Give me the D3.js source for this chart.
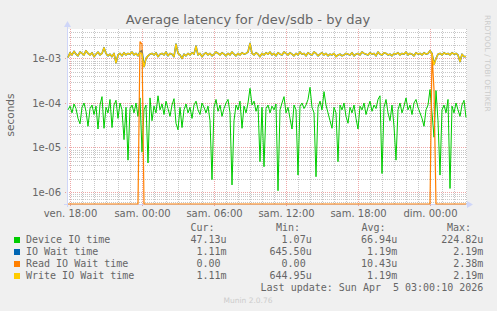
<!DOCTYPE html>
<html>
<head>
<meta charset="utf-8">
<script src="https://cdn.jsdelivr.net/npm/d3@7"></script>
<style>
  body { margin: 0; background: #f0f0f0; }
  svg { display: block; }
</style>
</head>
<body>
<svg id="chart" width="497" height="311"></svg>
<script>
// 5-min rrd samples, resampled every 10 minutes
const startTime = new Date(2026, 3, 3, 17, 50);
const stepMinutes = 10;

// Device IO time, microseconds
const deviceUs = [
  70, 85, 60, 95, 75, 45, 34, 80, 100, 65,
  30, 75, 90, 55, 85, 26, 90, 139, 27, 80,
  60, 120, 28, 90, 115, 45, 100, 70, 15, 80,
  5.2, 75, 90, 60, 100, 50, 130, 8, 70, 90,
  4.5, 130, 40, 85, 60, 145, 70, 95, 55, 110,
  75, 50, 90, 125, 35, 25, 80, 28, 70, 95,
  60, 80, 45, 90, 110, 70, 55, 100, 80, 60,
  85, 40, 1.9, 80, 120, 65, 90, 50, 75, 100,
  120, 60, 1.44, 40, 90, 70, 110, 27, 85, 60,
  100, 214, 90, 110, 65, 90, 4.8, 80, 3.7, 75,
  90, 60, 85, 70, 95, 1.07, 70, 100, 139, 60,
  80, 45, 26, 90, 70, 2.4, 85, 100, 75, 90,
  120, 224.82, 80, 60, 2.2, 80, 110, 70, 180, 90,
  60, 40, 27, 80, 60, 4.8, 90, 70, 100, 50,
  35, 80, 60, 90, 45, 26, 85, 70, 100, 55,
  80, 110, 65, 90, 75, 120, 145, 2.6, 80, 120,
  60, 40, 90, 30, 5.2, 70, 100, 60, 85, 130,
  70, 90, 55, 100, 120, 80, 60, 45, 30, 70,
  90, 200, 60, 17, 190, 40, 2.4, 70, 90, 60,
  120, 1.2, 85, 60, 100, 70, 50, 90, 115, 47.13
];

// IO Wait time, milliseconds
const ioWaitMs = [
  1.05, 1.35, 1.2, 1.45, 1.25, 1.15, 1.4, 1.3, 1.2, 1.5,
  1.3, 1.2, 1.35, 1.1, 1.25, 1.4, 1.2, 1.3, 1.75, 1.3,
  1.15, 1.25, 1.1, 1.3, 0.8, 1.2, 1.3, 1.15, 1.35, 1.2,
  1.3, 1.25, 1.4, 1.2, 1.3, 1.15, 1.4, 1.5, 0.66, 1.0,
  1.15, 1.25, 1.3, 1.2, 1.35, 1.1, 1.25, 1.3, 1.2, 1.4,
  1.15, 1.3, 1.25, 1.1, 2.1, 1.3, 1.2, 1.0, 1.25, 1.15,
  1.3, 1.2, 1.35, 1.25, 1.9, 1.2, 1.3, 1.1, 1.25, 1.35,
  1.2, 1.3, 1.15, 1.25, 1.4, 1.3, 1.2, 1.35, 1.25, 1.15,
  1.3, 1.2, 1.4, 1.25, 1.15, 1.3, 1.2, 1.35, 1.25, 1.3,
  1.4, 2.19, 1.3, 1.2, 1.35, 1.25, 1.1, 1.3, 1.2, 1.35,
  1.25, 1.4, 1.2, 1.3, 1.15, 1.35, 1.25, 1.2, 1.4, 1.3,
  1.2, 1.35, 1.25, 1.15, 1.3, 1.2, 1.4, 1.25, 1.3, 1.15,
  1.35, 1.25, 1.2, 1.4, 1.3, 1.15, 1.25, 1.35, 1.2, 1.3,
  1.15, 1.25, 1.2, 1.3, 1.1, 1.2, 1.25, 1.15, 1.2, 1.3,
  1.25, 1.2, 1.35, 1.15, 1.25, 1.3, 1.2, 1.4, 1.3, 1.25,
  1.2, 1.35, 1.25, 1.3, 1.15, 1.4, 1.25, 1.2, 1.35, 1.3,
  1.2, 1.25, 1.15, 1.3, 1.25, 1.35, 1.2, 1.3, 1.25, 1.4,
  1.2, 1.3, 1.25, 1.15, 1.35, 1.25, 1.3, 1.2, 1.35, 1.25,
  1.3, 1.5, 1.3, 0.75, 1.0, 1.25, 1.3, 1.2, 1.35, 1.25,
  1.3, 1.2, 1.35, 1.25, 1.3, 1.2, 0.85, 1.25, 1.1, 1.11
];

// Read IO Wait time, milliseconds
const readWaitMs = [
  0, 0, 0, 0, 0, 0, 0, 0, 0, 0,
  0, 0, 0, 0, 0, 0, 0, 0, 0, 0,
  0, 0, 0, 0, 0, 0, 0, 0, 0, 0,
  0, 0, 0, 0, 0, 0, 2.38, 2.1, 0, 0,
  0, 0, 0, 0, 0, 0, 0, 0, 0, 0,
  0, 0, 0, 0, 0, 0, 0, 0, 0, 0,
  0, 0, 0, 0, 0, 0, 0, 0, 0, 0,
  0, 0, 0, 0, 0, 0, 0, 0, 0, 0,
  0, 0, 0, 0, 0, 0, 0, 0, 0, 0,
  0, 0, 0, 0, 0, 0, 0, 0, 0, 0,
  0, 0, 0, 0, 0, 0, 0, 0, 0, 0,
  0, 0, 0, 0, 0, 0, 0, 0, 0, 0,
  0, 0, 0, 0, 0, 0, 0, 0, 0, 0,
  0, 0, 0, 0, 0, 0, 0, 0, 0, 0,
  0, 0, 0, 0, 0, 0, 0, 0, 0, 0,
  0, 0, 0, 0, 0, 0, 0, 0, 0, 0,
  0, 0, 0, 0, 0, 0, 0, 0, 0, 0,
  0, 0, 0, 0, 0, 0, 0, 0, 0, 0,
  0, 0, 1.3, 0.2, 0, 0, 0, 0, 0, 0,
  0, 0, 0, 0, 0, 0, 0, 0, 0, 0
];

// Write IO Wait time, milliseconds
const writeWaitMs = [
  1.05, 1.35, 1.2, 1.45, 1.25, 1.15, 1.4, 1.3, 1.2, 1.5,
  1.3, 1.2, 1.35, 1.1, 1.25, 1.4, 1.2, 1.3, 1.75, 1.3,
  1.15, 1.25, 1.1, 1.3, 0.8, 1.2, 1.3, 1.15, 1.35, 1.2,
  1.3, 1.25, 1.4, 1.2, 1.3, 1.15, 1.35, 1.25, 0.65, 1.0,
  1.15, 1.25, 1.3, 1.2, 1.35, 1.1, 1.25, 1.3, 1.2, 1.4,
  1.15, 1.3, 1.25, 1.1, 2.1, 1.3, 1.2, 1.0, 1.25, 1.15,
  1.3, 1.2, 1.35, 1.25, 1.9, 1.2, 1.3, 1.1, 1.25, 1.35,
  1.2, 1.3, 1.15, 1.25, 1.4, 1.3, 1.2, 1.35, 1.25, 1.15,
  1.3, 1.2, 1.4, 1.25, 1.15, 1.3, 1.2, 1.35, 1.25, 1.3,
  1.4, 2.19, 1.3, 1.2, 1.35, 1.25, 1.1, 1.3, 1.2, 1.35,
  1.25, 1.4, 1.2, 1.3, 1.15, 1.35, 1.25, 1.2, 1.4, 1.3,
  1.2, 1.35, 1.25, 1.15, 1.3, 1.2, 1.4, 1.25, 1.3, 1.15,
  1.35, 1.25, 1.2, 1.4, 1.3, 1.15, 1.25, 1.35, 1.2, 1.3,
  1.15, 1.25, 1.2, 1.3, 1.1, 1.2, 1.25, 1.15, 1.2, 1.3,
  1.25, 1.2, 1.35, 1.15, 1.25, 1.3, 1.2, 1.4, 1.3, 1.25,
  1.2, 1.35, 1.25, 1.3, 1.15, 1.4, 1.25, 1.2, 1.35, 1.3,
  1.2, 1.25, 1.15, 1.3, 1.25, 1.35, 1.2, 1.3, 1.25, 1.4,
  1.2, 1.3, 1.25, 1.15, 1.35, 1.25, 1.3, 1.2, 1.35, 1.25,
  1.3, 1.5, 1.25, 0.72, 1.0, 1.25, 1.3, 1.2, 1.35, 1.25,
  1.3, 1.2, 1.35, 1.25, 1.3, 1.2, 0.85, 1.25, 1.1, 1.11
];

const seriesNames = ["Device IO time", "IO Wait time", "Read IO Wait time", "Write IO Wait time"];
const seriesColors = ["#00cc00", "#0066b3", "#ff8000", "#ffcc00"];
const curVals = ["47.13u", "1.11m", "0.00", "1.11m"];
const minVals = ["1.07u", "645.50u", "0.00", "644.95u"];
const avgVals = ["66.94u", "1.19m", "10.43u", "1.19m"];
const maxVals = ["224.82u", "2.19m", "2.38m", "2.19m"];

const xTickLabels = ["ven. 18:00", "sam. 00:00", "sam. 06:00", "sam. 12:00", "sam. 18:00", "dim. 00:00"];
const yTickValues = [1e-6, 1e-5, 1e-4, 1e-3];
const yTickLabels = ["1e-06", "1e-05", "1e-04", "1e-03"];

const title = "Average latency for /dev/sdb - by day";
const lastUpdate = "Last update: Sun Apr  5 03:00:10 2026";

// layout
const plotLeft = 67, plotRight = 467, plotTop = 29, plotBottom = 204;
const fontColor = "#666666";
const axisColor = "#cfd6f8";
const lineWidths = [1, 1.6, 1.2, 1.4];

const svg = d3.select("#chart");

const x = d3.scaleTime()
  .domain([new Date(2026, 3, 3, 17, 45), new Date(2026, 3, 5, 3, 5)])
  .range([plotLeft, plotRight]);

const y = d3.scaleLog()
  .domain([5.37e-7, 4.6e-3])
  .range([plotBottom, plotTop])
  .clamp(true);

const times = deviceUs.map((d, i) => d3.timeMinute.offset(startTime, i * stepMinutes));

// canvas
svg.append("rect").attr("x", plotLeft).attr("y", plotTop)
  .attr("width", plotRight - plotLeft).attr("height", plotBottom - plotTop)
  .attr("fill", "#ffffff");

// grid
const grid = svg.append("g");
const hours = d3.timeHour.every(1).range(x.domain()[0], x.domain()[1]);
hours.forEach(h => {
  const major = h.getHours() % 6 === 0;
  grid.append("line")
    .attr("x1", Math.round(x(h)) + 0.5).attr("x2", Math.round(x(h)) + 0.5)
    .attr("y1", plotTop).attr("y2", major ? plotBottom + 2 : plotBottom)
    .attr("stroke", major ? "rgba(222,80,80,0.5)" : "rgba(143,143,143,0.5)")
    .attr("stroke-dasharray", "1,1");
});
for (let e = -7; e <= -3; e++) {
  for (let k = 1; k <= 9; k++) {
    const v = k * Math.pow(10, e);
    if (v < y.domain()[0] || v > y.domain()[1]) continue;
    const yy = Math.round(y(v)) + 0.5;
    grid.append("line")
      .attr("x1", k === 1 ? plotLeft - 2 : plotLeft).attr("x2", plotRight)
      .attr("y1", yy).attr("y2", yy)
      .attr("stroke", k === 1 ? "rgba(222,80,80,0.5)" : "rgba(143,143,143,0.5)")
      .attr("stroke-dasharray", "1,1");
  }
}

// axes lines and arrows
svg.append("line").attr("x1", plotLeft - 3).attr("x2", plotRight + 1)
  .attr("y1", plotBottom + 0.5).attr("y2", plotBottom + 0.5).attr("stroke", axisColor);
svg.append("line").attr("x1", plotLeft + 0.5).attr("x2", plotLeft + 0.5)
  .attr("y1", plotBottom + 3).attr("y2", plotTop - 4).attr("stroke", axisColor);
svg.append("path").attr("d", `M${plotRight},${plotBottom - 3} L${plotRight + 6},${plotBottom + 0.5} L${plotRight},${plotBottom + 4} Z`)
  .attr("fill", axisColor);
svg.append("path").attr("d", `M${plotLeft - 3},${plotTop - 2} L${plotLeft + 0.5},${plotTop - 8} L${plotLeft + 4},${plotTop - 2} Z`)
  .attr("fill", axisColor);

// series
const series = [
  deviceUs.map(v => v * 1e-6),
  ioWaitMs.map(v => v * 1e-3),
  readWaitMs.map(v => v * 1e-3),
  writeWaitMs.map(v => v * 1e-3)
];

svg.append("clipPath").attr("id", "plot-clip")
  .append("rect").attr("x", plotLeft).attr("y", plotTop - 1)
  .attr("width", plotRight - plotLeft + 1).attr("height", plotBottom - plotTop + 2);

const line = d3.line()
  .x((d, i) => x(times[i]))
  .y(d => y(Math.max(d, 1e-12)));

const lines = svg.append("g").attr("clip-path", "url(#plot-clip)");
series.forEach((s, i) => {
  lines.append("path")
    .datum(s)
    .attr("d", line)
    .attr("fill", "none")
    .attr("stroke", seriesColors[i])
    .attr("stroke-width", lineWidths[i])
    .attr("stroke-linejoin", "round");
});

// axis labels
const xTickTimes = d3.timeHour.every(6).range(x.domain()[0], x.domain()[1]);
const xAxis = svg.append("g")
  .attr("transform", `translate(0,${plotBottom})`)
  .call(d3.axisBottom(x).tickValues(xTickTimes)
    .tickFormat((d, i) => xTickLabels[i]).tickSize(0).tickPadding(5.4));
xAxis.select(".domain").remove();
xAxis.selectAll("text").attr("fill", fontColor)
  .style("font-family", "DejaVu Sans").style("font-size", "10px");

const yAxis = svg.append("g")
  .attr("transform", `translate(${plotLeft},0)`)
  .call(d3.axisLeft(y).tickValues(yTickValues)
    .tickFormat((d, i) => yTickLabels[i]).tickSize(0).tickPadding(6));
yAxis.select(".domain").remove();
yAxis.selectAll("text").attr("fill", fontColor)
  .style("font-family", "DejaVu Sans").style("font-size", "10px");

// title, y label, side text
svg.append("text").attr("x", 248).attr("y", 24)
  .attr("text-anchor", "middle").attr("fill", fontColor)
  .style("font-family", "DejaVu Sans").style("font-size", "13px")
  .text(title);

svg.append("text")
  .attr("transform", "translate(14,115) rotate(-90)")
  .attr("text-anchor", "middle").attr("fill", fontColor)
  .style("font-family", "DejaVu Sans").style("font-size", "10.5px")
  .text("seconds");

svg.append("text")
  .attr("transform", "translate(485,15) rotate(90)")
  .attr("fill", "#cccccc")
  .style("font-family", "DejaVu Sans").style("font-size", "7.5px")
  .text("RRDTOOL / TOBI OETIKER");

// legend
const mono = "DejaVu Sans Mono";
const legend = svg.append("g").style("font-family", mono).style("font-size", "10px").attr("fill", fontColor);
const headerX = [190.5, 276, 361.5, 447];
["Cur:", "Min:", "Avg:", "Max:"].forEach((h, i) => {
  legend.append("text").attr("x", headerX[i]).attr("y", 231).text(h);
});
const colEnd = [226.5, 311.7, 397.2, 483.3];
const charW = 6.02;
seriesNames.forEach((name, r) => {
  const yy = 243 + r * 12;
  svg.append("rect").attr("x", 14).attr("y", yy - 6).attr("width", 6).attr("height", 6)
    .attr("fill", seriesColors[r]);
  legend.append("text").attr("x", 26).attr("y", yy).style("white-space", "pre").text(name);
  [curVals, minVals, avgVals, maxVals].forEach((vals, c) => {
    const v = vals[r];
    const hasUnit = /[a-zA-Z]$/.test(v);
    legend.append("text")
      .attr("x", hasUnit ? colEnd[c] : colEnd[c] - charW)
      .attr("y", yy).attr("text-anchor", "end").text(v);
  });
});
legend.append("text").attr("x", 483.3).attr("y", 291)
  .attr("text-anchor", "end").style("white-space", "pre").text(lastUpdate);

svg.append("text").attr("x", 248).attr("y", 303)
  .attr("text-anchor", "middle").attr("fill", "#cccccc")
  .style("font-family", "DejaVu Sans").style("font-size", "7.5px")
  .text("Munin 2.0.76");
</script>
</body>
</html>
